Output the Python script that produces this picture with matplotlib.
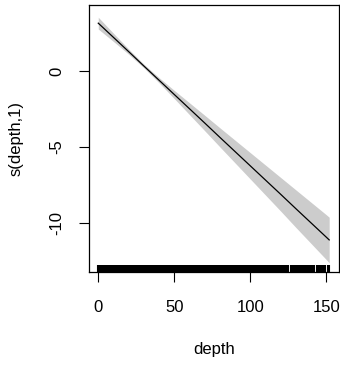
import matplotlib
matplotlib.use("Agg")
import matplotlib.pyplot as plt
import matplotlib.transforms as mtransforms

plt.rcParams["font.family"] = ["Liberation Sans", "DejaVu Sans"]

# Smooth term s(depth,1): fitted curve and confidence band on a depth grid
depth = [0, 10, 20, 30, 40, 50, 60, 70, 80, 90, 100, 110, 120, 130, 140, 150, 152]
fit = [3.18, 2.24, 1.30, 0.35, -0.59, -1.53, -2.47, -3.41, -4.36, -5.30,
       -6.24, -7.18, -8.12, -9.07, -10.01, -10.95, -11.14]
upper = [3.57, 2.51, 1.47, 0.47, -0.42, -1.26, -2.08, -2.90, -3.73, -4.55,
         -5.37, -6.19, -7.01, -7.83, -8.65, -9.47, -9.64]
lower = [2.79, 1.97, 1.13, 0.23, -0.76, -1.80, -2.86, -3.92, -4.99, -6.05,
         -7.11, -8.17, -9.23, -10.31, -11.37, -12.43, -12.65]

# Observed depths shown as a rug along the x axis
rug_depth = [
    0, 1, 2, 3, 4, 5, 6, 7, 8, 9, 10, 11, 12, 13, 14, 15, 16, 17, 18, 19,
    20, 21, 22, 23, 24, 25, 26, 27, 28, 29, 30, 31, 32, 33, 34, 35, 36, 37, 38, 39,
    40, 41, 42, 43, 44, 45, 46, 47, 48, 49, 50, 51, 52, 53, 54, 55, 56, 57, 58, 59,
    60, 61, 62, 63, 64, 65, 66, 67, 68, 69, 70, 71, 72, 73, 74, 75, 76, 77, 78, 79,
    80, 81, 82, 83, 84, 85, 86, 87, 88, 89, 90, 91, 92, 93, 94, 95, 96, 97, 98, 99,
    100, 101, 102, 103, 104, 105, 106, 107, 108, 109, 110, 111, 112, 113, 114, 115,
    116, 117, 118, 119, 120, 121, 122, 123, 124, 125,
    127, 128, 129, 130, 131, 132, 133, 134, 135, 136, 137, 138, 139, 140, 141, 142,
    144, 145, 146, 147, 148, 149,
    151, 152,
]

x_ticks = [0, 50, 100, 150]
y_ticks = [0, -5, -10]

fig = plt.figure(figsize=(3.4, 3.65), dpi=100)
ax = fig.add_axes([0.2618, 0.2548, 0.735, 0.7315])

ax.fill_between(depth, lower, upper, color="#cccccc", linewidth=0)
ax.plot(depth, fit, color="black", linewidth=0.9)

trans = mtransforms.blended_transform_factory(ax.transData, ax.transAxes)
ax.vlines(rug_depth, 0, 0.028, transform=trans, color="black", linewidth=1.5)

ax.set_xlim(-6.1, 158.4)
ax.set_ylim(-13.26, 4.38)

ax.set_xticks(x_ticks)
ax.set_xticklabels([str(v) for v in x_ticks])
ax.set_yticks(y_ticks)
ax.set_yticklabels([str(v) for v in y_ticks], rotation=90, va="center")

ax.tick_params(axis="both", direction="out", length=7.5, width=0.8,
               labelsize=12, color="black")
ax.tick_params(axis="x", pad=13)
ax.tick_params(axis="y", pad=10)

for sp in ax.spines.values():
    sp.set_linewidth(0.9)
    sp.set_color("black")

ax.set_xlabel("depth", fontsize=12, labelpad=19)
ax.set_ylabel("s(depth,1)", fontsize=12, labelpad=19)

fig.savefig("out.png", dpi=100)
